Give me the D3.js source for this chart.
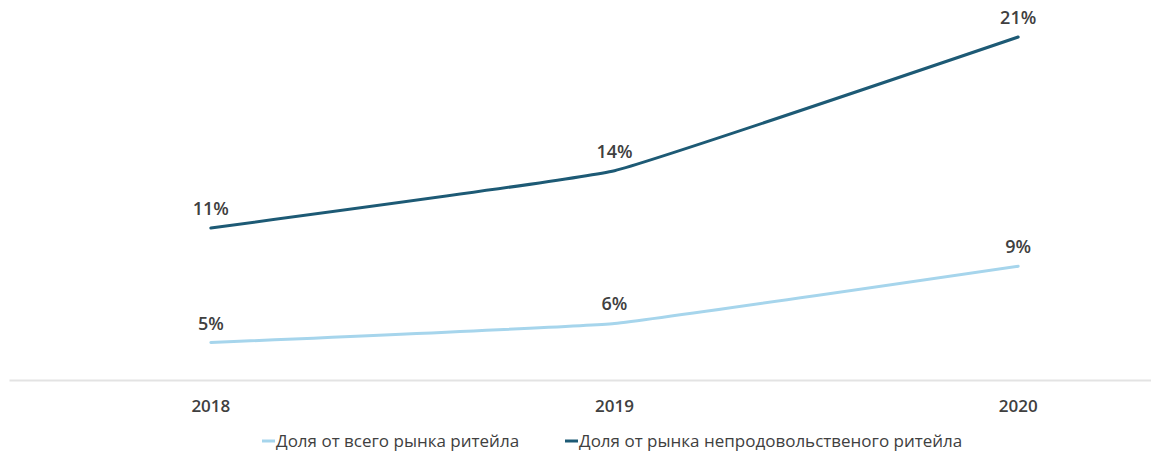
<!DOCTYPE html>
<html>
<head>
<meta charset="utf-8">
<script src="https://cdn.jsdelivr.net/npm/d3@7"></script>
<style>
  body { margin: 0; background: #fff; }
  svg { display: block; font-family: "Open Sans", sans-serif; }
</style>
</head>
<body>
<svg></svg>
<script>
const years = ["2018", "2019", "2020"];
const totalShare = [5, 6, 9];
const nonFoodShare = [11, 14, 21];
const seriesNames = ["Доля от всего рынка ритейла", "Доля от рынка непродовольственого ритейла"];
const seriesColors = ["#a6d5ec", "#1d5a75"];

const width = 1151;
const height = 456;

let svg = d3.select("svg").attr("width", width).attr("height", height);

// scales
var xScale = d3.scaleBand().domain(years).range([9, 1220]);
var yScale = d3.scaleLinear().domain([0, 21]).range([438, 37]);
const cx = (d) => xScale(d) + xScale.bandwidth() / 2;

// category axis
let xAxis = d3.axisBottom(xScale).tickSize(0).tickPadding(0);
let gx = svg.append("g").attr("transform", "translate(0,380)").call(xAxis);
gx.select(".domain").attr("stroke", "#e3e3e3").attr("stroke-width", 2);
gx.selectAll("text")
  .attr("dy", null)
  .attr("y", 32)
  .attr("font-size", 17)
  .attr("font-weight", 600)
  .attr("fill", "#404040")
  .attr("font-family", "Open Sans, sans-serif");

const series = [totalShare, nonFoodShare];
const line = d3.line()
  .x((d, i) => cx(years[i]))
  .y((d) => yScale(d))
  .curve(d3.curveCardinal.tension(0.75));

series.forEach((vals, s) => {
  svg.append("path")
    .datum(vals)
    .attr("d", line)
    .attr("fill", "none")
    .attr("stroke", seriesColors[s])
    .attr("stroke-width", 3)
    .attr("stroke-linecap", "round");

  svg.selectAll(".lbl" + s)
    .data(vals)
    .enter()
    .append("text")
    .attr("x", (d, i) => cx(years[i]))
    .attr("y", (d) => yScale(d) - 13)
    .attr("text-anchor", "middle")
    .attr("font-size", 18)
    .attr("font-weight", 600)
    .attr("fill", "#404040")
    .text((d) => d + "%");
});

// legend
const legendX = [262, 565];
seriesNames.forEach((name, s) => {
  let g = svg.append("g").attr("transform", "translate(" + legendX[s] + ",441)");
  g.append("line")
    .attr("x1", 0).attr("x2", 13)
    .attr("y1", 0).attr("y2", 0)
    .attr("stroke", seriesColors[s])
    .attr("stroke-width", 3);
  g.append("text")
    .attr("x", 14)
    .attr("y", 6)
    .attr("font-size", 17)
    .attr("fill", "#404040")
    .text(name);
});
</script>
</body>
</html>
